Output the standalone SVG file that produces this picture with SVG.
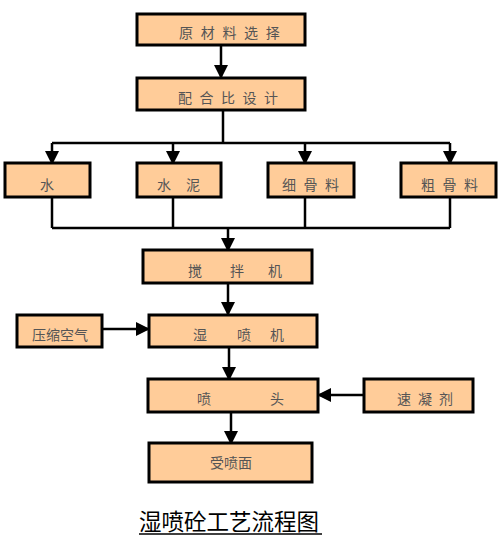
<svg xmlns="http://www.w3.org/2000/svg" width="499" height="544" viewBox="0 0 499 544">
<style>
.box{fill:#FFCC99;stroke:#000;stroke-width:3}
.t{font-family:"Noto Sans CJK SC","Liberation Serif",serif;font-size:14px;fill:#555}
.ln{fill:none;stroke:#000;stroke-width:2.5}
</style>
<defs>
<marker id="ah" markerUnits="userSpaceOnUse" markerWidth="14" markerHeight="14" viewBox="0 0 14 14" refX="13" refY="7" orient="auto">
<path d="M0,0 L14,7 L0,14 Z" fill="#000"/>
</marker>
</defs>
<rect width="499" height="544" fill="#fff"/>
<g id="connectors">
<line class="ln" x1="221" y1="45" x2="221" y2="78" marker-end="url(#ah)"/>
<polyline class="ln" points="223,110 223,143"/>
<line class="ln" x1="52" y1="143" x2="450" y2="143"/>
<line class="ln" x1="52" y1="143" x2="52" y2="164" marker-end="url(#ah)"/>
<line class="ln" x1="173" y1="143" x2="173" y2="164" marker-end="url(#ah)"/>
<line class="ln" x1="305" y1="143" x2="305" y2="164" marker-end="url(#ah)"/>
<line class="ln" x1="450" y1="143" x2="450" y2="164" marker-end="url(#ah)"/>
<line class="ln" x1="52" y1="197" x2="52" y2="228"/>
<line class="ln" x1="173" y1="197" x2="173" y2="228"/>
<line class="ln" x1="305" y1="197" x2="305" y2="228"/>
<line class="ln" x1="450" y1="197" x2="450" y2="228"/>
<line class="ln" x1="52" y1="228" x2="450" y2="228"/>
<line class="ln" x1="228" y1="228" x2="228" y2="251" marker-end="url(#ah)"/>
<line class="ln" x1="228" y1="283" x2="228" y2="315" marker-end="url(#ah)"/>
<line class="ln" x1="102" y1="329" x2="149" y2="329" marker-end="url(#ah)"/>
<line class="ln" x1="229" y1="347" x2="229" y2="380" marker-end="url(#ah)"/>
<line class="ln" x1="364" y1="395" x2="318" y2="395" marker-end="url(#ah)"/>
<line class="ln" x1="231" y1="412" x2="231" y2="444" marker-end="url(#ah)"/>
</g>
<g id="n1"><rect class="box" x="137" y="14" width="168" height="31"/>
<text class="t" x="179" y="38" letter-spacing="7.7">原材料选择</text></g>
<g id="n2"><rect class="box" x="137" y="78" width="168" height="32"/>
<text class="t" x="178" y="103" letter-spacing="7.5">配合比设计</text></g>
<g id="n3"><rect class="box" x="5" y="163" width="85" height="34"/>
<text class="t" x="40" y="190">水</text></g>
<g id="n4"><rect class="box" x="137" y="163" width="84" height="34"/>
<text class="t" y="190"><tspan x="157">水</tspan><tspan x="186">泥</tspan></text></g>
<g id="n5"><rect class="box" x="268" y="163" width="86" height="34"/>
<text class="t" x="282" y="190" letter-spacing="7.5">细骨料</text></g>
<g id="n6"><rect class="box" x="401" y="163" width="95" height="34"/>
<text class="t" x="421" y="190" letter-spacing="7.5">粗骨料</text></g>
<g id="n7"><rect class="box" x="143" y="250" width="169" height="33"/>
<text class="t" y="276"><tspan x="188">搅</tspan><tspan x="230">拌</tspan><tspan x="268">机</tspan></text></g>
<g id="n8"><rect class="box" x="17" y="315" width="85" height="32"/>
<text class="t" x="32" y="340">压缩空气</text></g>
<g id="n9"><rect class="box" x="149" y="315" width="168" height="32"/>
<text class="t" y="340"><tspan x="193">湿</tspan><tspan x="237">喷</tspan><tspan x="270">机</tspan></text></g>
<g id="n10"><rect class="box" x="148" y="379" width="170" height="33"/>
<text class="t" y="404"><tspan x="197">喷</tspan><tspan x="270">头</tspan></text></g>
<g id="n11"><rect class="box" x="364" y="379" width="109" height="33"/>
<text class="t" x="397" y="404" letter-spacing="7">速凝剂</text></g>
<g id="n12"><rect class="box" x="149" y="443" width="163" height="39"/>
<text class="t" x="210" y="468">受喷面</text></g>
<g id="title">
<text x="139" y="530" font-family="Noto Sans CJK SC,Liberation Serif,serif" font-size="22.5" fill="#000">湿喷砼工艺流程图</text>
<line x1="139" y1="534" x2="322" y2="534" stroke="#000" stroke-width="1.5"/>
</g>
</svg>
